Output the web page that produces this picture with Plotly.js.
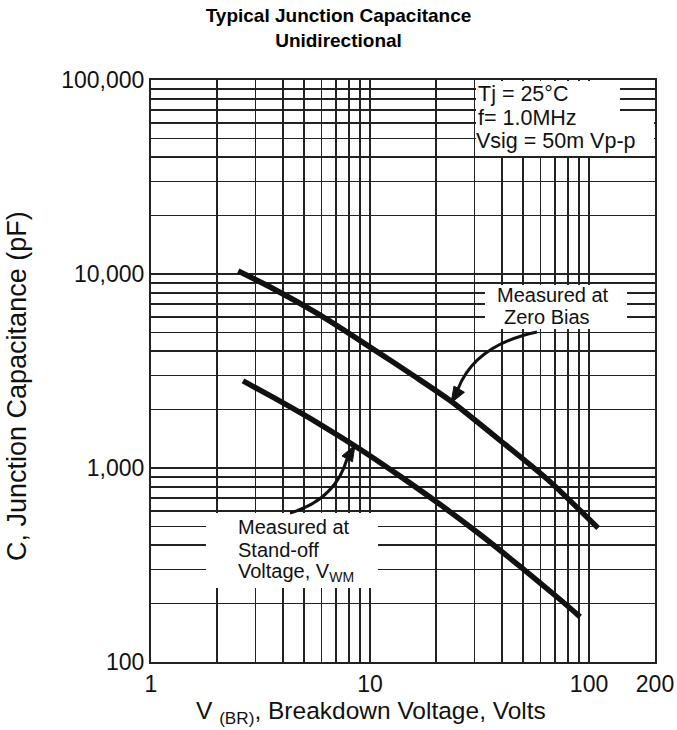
<!DOCTYPE html>
<html>
<head>
<meta charset="utf-8">
<script src="https://cdn.plot.ly/plotly-3.0.1.min.js"></script>
<style>html,body{margin:0;padding:0;background:#fff;}#chart{width:677px;height:730px;}</style>
</head>
<body>
<div id="chart"></div>
<script>
// ---- Data ----
const voltsZeroBias = [2.5, 3.5, 5.9, 10, 16.4, 23.7, 39.2, 66.4, 110];
const capZeroBias   = [10360, 8570, 6150, 4200, 2910, 2190, 1390, 850, 490];
const voltsStandoff = [2.63, 3.88, 5.91, 9.0, 13.7, 20.9, 31.8, 48.4, 73.7, 91];
const capStandoff   = [2810, 2210, 1680, 1250, 908, 648, 454, 311, 210, 171];

const xTickVals = [1, 10, 100, 200];
const xTickText = ['1', '10', '100', '200'];
const xGridVals = [2,3,4,5,6,7,8,9,20,30,40,50,60,70,80,90];
const yTickVals = [100, 1000, 10000, 100000];
const yTickText = ['100', '1,000', '10,000', '100,000'];
const yGridVals = [200,300,400,500,600,700,800,900,
                   2000,3000,4000,5000,6000,7000,8000,9000,
                   20000,30000,40000,50000,60000,70000,80000,90000];

// ---- Layout geometry ----
const W = 677, H = 730;
const M = {l: 151, r: 22, t: 80, b: 68};
const PW = W - M.l - M.r, PH = H - M.t - M.b;
// page pixel -> paper fraction (used for decorations only)
const px = x => (x - M.l) / PW;
const py = y => (H - M.b - y) / PH;

const FONT = 'Liberation Sans, Arial, Helvetica, sans-serif';
const INK = '#111';
const GRID = '#222';

const traces = [
  {x: voltsZeroBias, y: capZeroBias, name: 'Measured at Zero Bias', mode: 'lines',
   line: {color: INK, width: 5.5, shape: 'spline', smoothing: 0.6}},
  {x: voltsStandoff, y: capStandoff, name: 'Measured at Stand-off Voltage', mode: 'lines',
   line: {color: INK, width: 5.5, shape: 'spline', smoothing: 0.6}}
];

function rect(x0, y0, x1, y1) {
  return {type: 'rect', xref: 'paper', yref: 'paper', x0: px(x0), x1: px(x1), y0: py(y1), y1: py(y0),
          fillcolor: '#fff', line: {width: 0}, layer: 'above'};
}
function curve(p0, c, p1) {
  return {type: 'path', xref: 'paper', yref: 'paper', layer: 'above',
          path: `M ${px(p0[0])} ${py(p0[1])} Q ${px(c[0])} ${py(c[1])} ${px(p1[0])} ${py(p1[1])}`,
          line: {color: INK, width: 3}};
}
function head(a, b, c) {
  return {type: 'path', xref: 'paper', yref: 'paper', layer: 'above',
          path: `M ${px(a[0])} ${py(a[1])} L ${px(b[0])} ${py(b[1])} L ${px(c[0])} ${py(c[1])} Z`,
          fillcolor: INK, line: {color: INK, width: 1}};
}

const shapes = [
  rect(476, 81, 620, 156),
  rect(620, 116, 654, 156),
  rect(485, 285, 627, 329),
  rect(206, 513, 378, 588),
  curve([537, 332], [475, 345], [458, 389]),
  head([451, 403], [464.4, 392.3], [454.0, 386.1]),
  curve([290, 513], [335, 500], [347, 459]),
  head([355, 445], [352.4, 461.8], [342.0, 456.0])
];

function txt(t, x, y, size, xanchor, extra) {
  return Object.assign({text: t, xref: 'paper', yref: 'paper', x: px(x), y: py(y),
    xanchor: xanchor || 'left', yanchor: 'middle', showarrow: false,
    font: {family: FONT, size: size, color: INK}}, extra || {});
}

const annotations = [
  txt('Tj = 25°C', 476, 94, 21.5),
  txt('f= 1.0MHz', 476, 117.5, 21.5),
  txt('Vsig = 50m Vp-p', 474, 141, 21.5),
  txt('Measured at', 553, 295, 20, 'center'),
  txt('Zero Bias', 547, 317, 20, 'center'),
  txt('Measured at', 236, 527, 20),
  txt('Stand-off', 236, 549.5, 20),
  txt('Voltage, V<sub>WM</sub>', 236, 572, 20),
  // axis titles (placed where the reference has them)
  txt('V <sub>(BR)</sub>, Breakdown Voltage, Volts', 371, 712, 24.5, 'center'),
  txt('C, Junction Capacitance (pF)', 17, 386, 27, 'center', {textangle: -90})
];

const axisCommon = {
  type: 'log', showgrid: true, gridcolor: GRID, gridwidth: 1.6,
  showline: true, linecolor: GRID, linewidth: 2, mirror: true,
  ticks: '', zeroline: false, tickmode: 'array', fixedrange: true, automargin: false,
  tickfont: {family: FONT, size: 23, color: INK}
};

const layout = {
  width: W, height: H,
  margin: M,
  paper_bgcolor: '#fff', plot_bgcolor: '#fff',
  showlegend: false,
  title: {text: '<b>Typical Junction Capacitance<br>Unidirectional</b>',
          font: {family: FONT, size: 19, color: '#000'},
          x: 0.5, xref: 'container', xanchor: 'center',
          y: 1 - 22 / H, yref: 'container', yanchor: 'top'},
  xaxis: Object.assign({}, axisCommon, {
    range: [0, Math.log10(200)], tickvals: xTickVals, ticktext: xTickText,
    minor: {tickmode: 'array', tickvals: xGridVals, showgrid: true, gridcolor: GRID, gridwidth: 1.6, ticks: ''}
  }),
  yaxis: Object.assign({}, axisCommon, {
    range: [2, 5], tickvals: yTickVals, ticktext: yTickText,
    minor: {tickmode: 'array', tickvals: yGridVals, showgrid: true, gridcolor: GRID, gridwidth: 1.6, ticks: ''}
  }),
  shapes: shapes,
  annotations: annotations
};

Plotly.newPlot('chart', traces, layout, {displayModeBar: false, staticPlot: true});
</script>
</body>
</html>
